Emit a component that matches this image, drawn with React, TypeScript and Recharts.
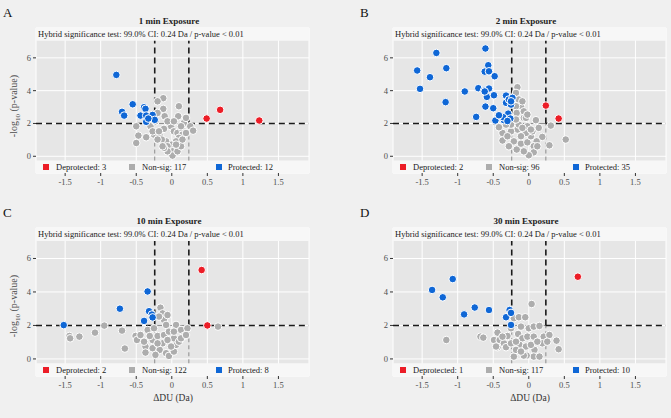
import { ScatterChart, Scatter, XAxis, YAxis, CartesianGrid, ReferenceLine, ReferenceArea } from 'recharts'

// values (x = ΔDU in Da, y = -log10 p)
const aDeprotected = [
  { x: 0.49, y: 2.3 }, { x: 0.68, y: 2.83 }, { x: 1.23, y: 2.18 }
]
const aProtected = [
  { x: -0.78, y: 4.96 }, { x: -0.55, y: 3.17 }, { x: -0.7, y: 2.71 }, { x: -0.67, y: 2.48 },
  { x: -0.39, y: 2.99 }, { x: -0.37, y: 2.89 }, { x: -0.44, y: 2.48 }, { x: -0.36, y: 2.48 },
  { x: -0.27, y: 2.52 }, { x: -0.24, y: 2.22 }, { x: -0.36, y: 2.1 }, { x: -0.33, y: 2.3 }
]
const aNonSig = [
  { x: -0.12, y: 3.54 }, { x: -0.2, y: 3.35 }, { x: -0.12, y: 2.89 }, { x: 0.1, y: 3.05 },
  { x: -0.1, y: 2.44 }, { x: 0.09, y: 2.44 }, { x: -0.2, y: 2.64 }, { x: -0.3, y: 1.83 },
  { x: -0.5, y: 1.83 }, { x: -0.47, y: 1.26 }, { x: -0.5, y: 0.81 }, { x: -0.36, y: 1.16 },
  { x: -0.25, y: 1.32 }, { x: -0.17, y: 1.26 }, { x: -0.11, y: 1.67 }, { x: -0.01, y: 1.83 },
  { x: 0.03, y: 1.52 }, { x: 0.08, y: 1.42 }, { x: 0.15, y: 1.63 }, { x: 0.17, y: 2.03 },
  { x: 0.26, y: 1.83 }, { x: 0.3, y: 1.56 }, { x: 0.15, y: 1.32 }, { x: 0.1, y: 1.12 },
  { x: 0.06, y: 0.91 }, { x: -0.01, y: 0.71 }, { x: -0.08, y: 0.91 }, { x: -0.14, y: 1.02 },
  { x: -0.06, y: 0.61 }, { x: 0.01, y: 0.3 }, { x: 0.01, y: 0.04 }, { x: 0.08, y: 0.3 },
  { x: 0.13, y: 0.61 }, { x: -0.06, y: 0.3 }, { x: -0.11, y: 0.51 }, { x: -0.2, y: 1.02 },
  { x: -0.27, y: 1.52 }, { x: -0.18, y: 1.52 }, { x: -0.23, y: 2.13 }, { x: -0.06, y: 2.13 },
  { x: 0.03, y: 2.13 }, { x: 0.2, y: 2.34 }, { x: 0.13, y: 1.83 }, { x: 0.06, y: 0.71 },
  { x: -0.13, y: 0.61 }, { x: 0.15, y: 1.02 }, { x: 0.2, y: 1.42 }
]

const bDeprotected = [{ x: 0.24, y: 3.09 }, { x: 0.42, y: 2.3 }]
const bProtected = [
  { x: -1.57, y: 5.23 }, { x: -1.53, y: 4.11 }, { x: -1.39, y: 4.82 }, { x: -1.3, y: 6.3 },
  { x: -1.16, y: 5.37 }, { x: -1.17, y: 3.3 }, { x: -0.9, y: 3.95 }, { x: -0.71, y: 4.15 },
  { x: -0.63, y: 4.0 }, { x: -0.56, y: 4.13 }, { x: -0.59, y: 3.62 }, { x: -0.49, y: 3.72 },
  { x: -0.61, y: 3.03 }, { x: -0.5, y: 2.93 }, { x: -0.74, y: 2.4 }, { x: -0.47, y: 2.18 },
  { x: -0.32, y: 3.7 }, { x: -0.32, y: 3.26 }, { x: -0.28, y: 3.46 }, { x: -0.23, y: 3.56 },
  { x: -0.29, y: 2.6 }, { x: -0.35, y: 2.2 }, { x: -0.39, y: 2.44 }, { x: -0.61, y: 6.57 },
  { x: -0.57, y: 5.55 }, { x: -0.62, y: 5.16 }, { x: -0.56, y: 5.18 }, { x: -0.48, y: 4.88 },
  { x: -0.25, y: 3.15 }, { x: -0.36, y: 2.38 }, { x: -0.42, y: 2.5 }, { x: -0.26, y: 2.3 },
  { x: -0.3, y: 2.15 }, { x: -0.62, y: 3.95 }, { x: -0.25, y: 3.35 }
]
const bNonSig = [
  { x: -0.16, y: 4.21 }, { x: -0.18, y: 3.86 }, { x: -0.14, y: 3.46 }, { x: -0.11, y: 3.05 },
  { x: -0.09, y: 3.35 }, { x: -0.18, y: 3.05 }, { x: -0.17, y: 2.64 }, { x: -0.07, y: 2.74 },
  { x: -0.07, y: 2.34 }, { x: -0.04, y: 2.34 }, { x: 0.1, y: 2.2 }, { x: 0.14, y: 1.73 },
  { x: 0.31, y: 1.87 }, { x: 0.19, y: 1.18 }, { x: 0.29, y: 0.67 }, { x: 0.52, y: 1.02 },
  { x: 0.11, y: 0.91 }, { x: 0.07, y: 0.61 }, { x: 0.07, y: 0.24 }, { x: 0.0, y: 0.06 },
  { x: -0.07, y: 0.3 }, { x: -0.17, y: 0.41 }, { x: -0.11, y: 0.77 }, { x: -0.02, y: 0.85 },
  { x: 0.03, y: 1.22 }, { x: -0.04, y: 1.42 }, { x: -0.11, y: 1.22 }, { x: -0.16, y: 1.63 },
  { x: -0.25, y: 1.52 }, { x: -0.37, y: 1.42 }, { x: -0.42, y: 1.77 }, { x: -0.37, y: 0.96 },
  { x: -0.3, y: 1.22 }, { x: -0.25, y: 1.93 }, { x: -0.14, y: 1.93 }, { x: -0.02, y: 1.83 },
  { x: 0.05, y: 1.52 }, { x: -0.21, y: 0.91 }, { x: -0.28, y: 0.61 }, { x: -0.32, y: 1.93 },
  { x: -0.09, y: 1.73 }, { x: 0.03, y: 1.63 }, { x: -0.18, y: 2.24 }, { x: -0.02, y: 2.54 },
  { x: 0.12, y: 0.61 }
]

const cDeprotected = [{ x: 0.42, y: 5.31 }, { x: 0.5, y: 2.0 }]
const cProtected = [
  { x: -1.52, y: 2.02 }, { x: -0.73, y: 3.0 }, { x: -0.34, y: 4.03 }, { x: -0.3, y: 2.8 },
  { x: -0.32, y: 2.85 }, { x: -0.28, y: 2.65 }, { x: -0.27, y: 2.48 }, { x: -0.39, y: 2.27 }
]
const cNonSig = [
  { x: -1.44, y: 1.37 }, { x: -1.43, y: 1.23 }, { x: -1.3, y: 1.33 }, { x: -1.08, y: 1.57 },
  { x: -0.95, y: 1.99 }, { x: -0.7, y: 1.69 }, { x: -0.66, y: 0.62 }, { x: -0.51, y: 1.37 },
  { x: -0.49, y: 1.13 }, { x: -0.44, y: 1.43 }, { x: -0.34, y: 1.73 }, { x: -0.37, y: 0.74 },
  { x: -0.37, y: 0.38 }, { x: -0.27, y: 1.13 }, { x: -0.27, y: 0.64 }, { x: -0.25, y: 1.83 },
  { x: -0.2, y: 1.37 }, { x: -0.16, y: 3.06 }, { x: -0.13, y: 2.72 }, { x: -0.11, y: 2.33 },
  { x: -0.08, y: 2.03 }, { x: -0.11, y: 1.43 }, { x: -0.13, y: 0.93 }, { x: -0.17, y: 0.54 },
  { x: -0.08, y: 0.34 }, { x: -0.04, y: 0.18 }, { x: 0.03, y: 0.44 }, { x: 0.06, y: 0.84 },
  { x: 0.03, y: 1.23 }, { x: -0.04, y: 1.63 }, { x: 0.06, y: 2.03 }, { x: 0.13, y: 1.73 },
  { x: 0.17, y: 1.37 }, { x: 0.1, y: 1.03 }, { x: 0.22, y: 1.83 }, { x: 0.65, y: 1.93 },
  { x: -0.2, y: 0.93 }, { x: -0.06, y: 1.13 }, { x: -0.01, y: 0.74 }, { x: -0.23, y: 0.24 },
  { x: -0.31, y: 1.37 }, { x: 0.03, y: 1.63 }, { x: 0.13, y: 1.23 }, { x: -0.39, y: 1.03 },
  { x: -0.18, y: 2.53 }, { x: -0.06, y: 2.62 }, { x: 0.2, y: 1.43 }
]

const dDeprotected = [{ x: 0.69, y: 4.91 }]
const dProtected = [
  { x: -1.36, y: 4.12 }, { x: -1.21, y: 3.68 }, { x: -1.07, y: 4.77 }, { x: -0.91, y: 2.66 },
  { x: -0.76, y: 3.07 }, { x: -0.56, y: 2.92 }, { x: -0.27, y: 2.92 }, { x: -0.32, y: 2.49 },
  { x: -0.25, y: 2.03 }, { x: -0.25, y: 2.75 }
]
const dNonSig = [
  { x: -1.16, y: 1.13 }, { x: -0.68, y: 1.33 }, { x: -0.64, y: 1.27 }, { x: -0.49, y: 1.13 },
  { x: -0.44, y: 1.57 }, { x: -0.41, y: 1.13 }, { x: -0.44, y: 0.7 }, { x: -0.35, y: 0.93 },
  { x: -0.3, y: 1.37 }, { x: -0.32, y: 0.7 }, { x: -0.25, y: 0.93 }, { x: -0.21, y: 2.43 },
  { x: -0.14, y: 2.49 }, { x: -0.05, y: 2.49 }, { x: 0.04, y: 3.28 }, { x: -0.11, y: 1.93 },
  { x: 0.0, y: 1.83 }, { x: 0.07, y: 1.93 }, { x: 0.15, y: 1.97 }, { x: -0.15, y: 1.49 },
  { x: -0.09, y: 1.23 }, { x: -0.02, y: 1.33 }, { x: 0.07, y: 1.33 }, { x: 0.21, y: 1.33 },
  { x: 0.29, y: 1.43 }, { x: 0.39, y: 1.09 }, { x: 0.42, y: 0.58 }, { x: 0.19, y: 0.93 },
  { x: 0.08, y: 0.54 }, { x: 0.07, y: 0.14 }, { x: 0.15, y: 0.14 }, { x: -0.03, y: 0.2 },
  { x: -0.07, y: 0.2 }, { x: -0.21, y: 0.14 }, { x: -0.13, y: 0.84 }, { x: -0.04, y: 0.74 },
  { x: -0.18, y: 0.54 }, { x: -0.11, y: 0.44 }, { x: 0.03, y: 0.84 }, { x: 0.12, y: 1.03 },
  { x: 0.26, y: 1.03 }, { x: -0.25, y: 1.83 }, { x: -0.18, y: 1.03 }, { x: -0.37, y: 1.33 },
  { x: -0.46, y: 0.74 }
]

const xTicks = [-1.5, -1, -0.5, 0, 0.5, 1, 1.5]
const yTicks = [0, 2, 4, 6]
const cutoffDU = 0.24
const cutoffLogP = 2
const headerText = 'Hybrid significance test: 99.0% CI: 0.24 Da / p-value < 0.01'

const X_DOMAIN = [-1.91, 1.93]
const Y_DOMAIN = [-1.02, 7.82]
const HEADER_Y = 7.05
const LEGEND_Y = -0.26
const PLOT_W = 273

const RED = '#ec1d27'
const BLUE = '#0f67d6'
const GRAY = '#adadad'
const FONT = '"Liberation Serif", "Times New Roman", serif'

const dot = (color: string) => (props: any) => (
  <circle cx={props.cx} cy={props.cy} r={3.8} fill={color} stroke="#ffffff" strokeWidth={1} />
)

type PanelProps = {
  letter: string
  title: string
  left: number
  top: number
  h: number
  deprotected: { x: number; y: number }[]
  protectedPts: { x: number; y: number }[]
  nonSig: { x: number; y: number }[]
  nonSigCount: number
  yLabel?: boolean
  xLabel?: boolean
}

function Panel(p: PanelProps) {
  const blackLine = { stroke: '#1a1a1a', strokeWidth: 1.6, strokeDasharray: '6 4' }
  const grayLine = { stroke: '#8c8c8c', strokeWidth: 1, strokeDasharray: '4 3' }
  const bottom = p.top + p.h
  const abs = (extra: any) => ({ position: 'absolute' as const, fontFamily: FONT, whiteSpace: 'nowrap' as const, ...extra })
  return (
    <>
      <div style={abs({ left: p.left - 33, top: p.top - 22, fontSize: 13, lineHeight: '13px', color: '#111' })}>{p.letter}</div>
      <div style={abs({ left: p.left + 133, top: p.top - 7, fontSize: 9, fontWeight: 'bold', color: '#222', transform: 'translate(-50%, -50%)', lineHeight: 1 })}>{p.title}</div>
      <div style={{ position: 'absolute', left: p.left - 36, top: p.top - 4 }}>
        <ScatterChart width={36 + PLOT_W + 10} height={p.h + 30} margin={{ top: 4, right: 10, left: 6, bottom: 6 }}>
          <CartesianGrid fill="#e6e6e6" stroke="#ffffff" strokeWidth={1} />
          <XAxis
            type="number"
            dataKey="x"
            domain={X_DOMAIN}
            ticks={xTicks}
            allowDataOverflow
            axisLine={false}
            tickLine={{ stroke: '#333' }}
            tickSize={3}
            tickMargin={3}
            height={20}
            tick={{ fontSize: 8.5, fill: '#4d4d4d', fontFamily: FONT }}
            tickFormatter={(v: number) => String(v)}
          />
          <YAxis
            type="number"
            dataKey="y"
            domain={Y_DOMAIN}
            ticks={yTicks}
            allowDataOverflow
            axisLine={false}
            tickLine={{ stroke: '#333' }}
            tickSize={3}
            tickMargin={2}
            width={30}
            tick={{ fontSize: 8.5, fill: '#4d4d4d', fontFamily: FONT }}
          />
          <ReferenceLine segment={[{ x: -cutoffDU, y: LEGEND_Y }, { x: -cutoffDU, y: cutoffLogP }]} {...grayLine} />
          <ReferenceLine segment={[{ x: cutoffDU, y: LEGEND_Y }, { x: cutoffDU, y: cutoffLogP }]} {...grayLine} />
          <ReferenceLine segment={[{ x: -cutoffDU, y: cutoffLogP }, { x: cutoffDU, y: cutoffLogP }]} stroke="#8c8c8c" strokeWidth={1} />
          <ReferenceLine segment={[{ x: X_DOMAIN[0], y: cutoffLogP }, { x: -cutoffDU, y: cutoffLogP }]} {...blackLine} />
          <ReferenceLine segment={[{ x: cutoffDU, y: cutoffLogP }, { x: X_DOMAIN[1], y: cutoffLogP }]} {...blackLine} />
          <ReferenceLine segment={[{ x: -cutoffDU, y: cutoffLogP }, { x: -cutoffDU, y: HEADER_Y }]} {...blackLine} />
          <ReferenceLine segment={[{ x: cutoffDU, y: cutoffLogP }, { x: cutoffDU, y: HEADER_Y }]} {...blackLine} />
          <Scatter data={p.nonSig} fill={GRAY} shape={dot(GRAY)} isAnimationActive={false} />
          <Scatter data={p.deprotected} fill={RED} shape={dot(RED)} isAnimationActive={false} />
          <Scatter data={p.protectedPts} fill={BLUE} shape={dot(BLUE)} isAnimationActive={false} />
          <ReferenceArea x1={X_DOMAIN[0]} x2={X_DOMAIN[1]} y1={HEADER_Y} y2={Y_DOMAIN[1]} fill="#f7f7f7" fillOpacity={1} stroke="none" />
          <ReferenceArea x1={X_DOMAIN[0]} x2={X_DOMAIN[1]} y1={Y_DOMAIN[0]} y2={LEGEND_Y} fill="#f7f7f7" fillOpacity={1} stroke="none" />
        </ScatterChart>
      </div>
      <div style={abs({ left: p.left + 2, top: p.top + 6.3, fontSize: 8.5, color: '#1a1a1a', transform: 'translateY(-50%)', lineHeight: 1 })}>{headerText}</div>
      {[
        { c: RED, t: `Deprotected: ${p.deprotected.length}`, sx: 7, tx: 20 },
        { c: GRAY, t: `Non-sig: ${p.nonSigCount}`, sx: 93, tx: 106 },
        { c: BLUE, t: `Protected: ${p.protectedPts.length}`, sx: 180, tx: 192 }
      ].map((it) => (
        <div key={it.t}>
          <div style={{ position: 'absolute', left: p.left + it.sx, top: bottom - 9, width: 6, height: 6, background: it.c }} />
          <div style={abs({ left: p.left + it.tx, top: bottom - 5.8, fontSize: 8.5, color: '#1a1a1a', transform: 'translateY(-50%)', lineHeight: 1 })}>{it.t}</div>
        </div>
      ))}
      {p.yLabel && (
        <div style={abs({ left: 15, top: p.top + 78, fontSize: 10, color: '#4d4d4d', transform: 'translate(-50%, -50%) rotate(-90deg)', lineHeight: 1 })}>
          -log<sub style={{ fontSize: 7 }}>10</sub> (p-value)
        </div>
      )}
      {p.xLabel && (
        <div style={abs({ left: p.left + 137, top: bottom + 23, fontSize: 9.5, color: '#333', transform: 'translate(-50%, -50%)', lineHeight: 1 })}>
          ΔDU (Da)
        </div>
      )}
    </>
  )
}

export default function App() {
  return (
    <div style={{ position: 'absolute', left: 0, top: 0, width: 671, height: 418, background: '#f0f0f0', overflow: 'hidden' }}>
      <Panel letter="A" title="1 min Exposure" left={36} top={28} h={145}
        deprotected={aDeprotected} protectedPts={aProtected} nonSig={aNonSig} nonSigCount={117} yLabel />
      <Panel letter="B" title="2 min Exposure" left={393} top={28} h={145}
        deprotected={bDeprotected} protectedPts={bProtected} nonSig={bNonSig} nonSigCount={96} />
      <Panel letter="C" title="10 min Exposure" left={36} top={228} h={148}
        deprotected={cDeprotected} protectedPts={cProtected} nonSig={cNonSig} nonSigCount={122} yLabel xLabel />
      <Panel letter="D" title="30 min Exposure" left={393} top={228} h={148}
        deprotected={dDeprotected} protectedPts={dProtected} nonSig={dNonSig} nonSigCount={117} xLabel />
    </div>
  )
}
